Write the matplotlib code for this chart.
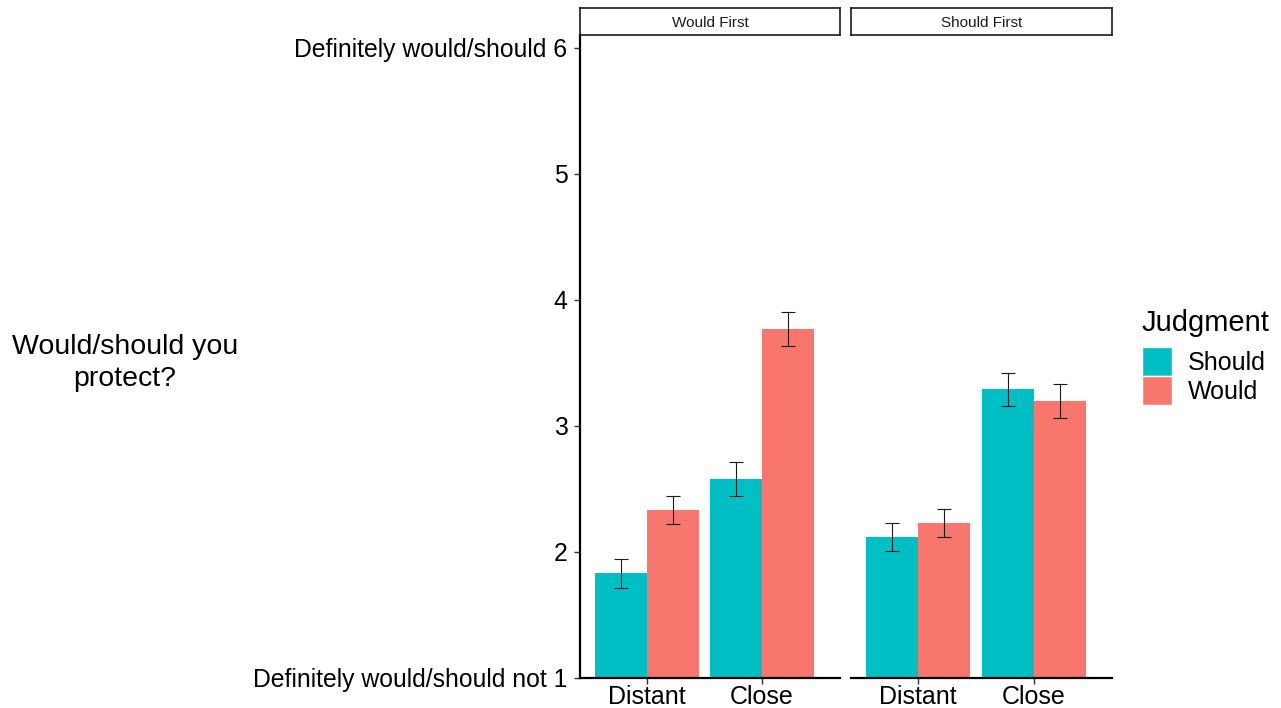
import matplotlib
matplotlib.use("Agg")
import matplotlib.pyplot as plt
from matplotlib.patches import Patch
import numpy as np

plt.rcParams['font.family'] = ['Liberation Sans', 'DejaVu Sans']

panels = ["Would First", "Should First"]
distance = ["Distant", "Close"]
judgments = ["Should", "Would"]
colors = {"Should": "#00BFC4", "Would": "#F8766D"}

# means[panel][judgment] over distance
means = {
    "Would First": {"Should": [1.83, 2.58], "Would": [2.33, 3.77]},
    "Should First": {"Should": [2.12, 3.29], "Would": [2.23, 3.20]},
}
ses = {
    "Would First": {"Should": [0.115, 0.134], "Would": [0.112, 0.135]},
    "Should First": {"Should": [0.113, 0.133], "Would": [0.112, 0.135]},
}

ytick_vals = [1, 2, 3, 4, 5, 6]
ytick_labels = ["Definitely would/should not 1", "2", "3", "4", "5",
                "Definitely would/should 6"]

W, H = 1281, 708
fig = plt.figure(figsize=(W / 100, H / 100), dpi=100)

panel_px = [(580, 840), (851, 1112)]
top_px, bot_px = 35, 678
strip_top = 8

bw = 0.45
for i, (pname, (x0, x1)) in enumerate(zip(panels, panel_px)):
    ax = fig.add_axes([x0 / W, 1 - bot_px / H, (x1 - x0) / W, (bot_px - top_px) / H])
    xs = np.arange(1, len(distance) + 1)
    for j, jd in enumerate(judgments):
        pos = xs + (j - 0.5) * bw
        ax.bar(pos, np.array(means[pname][jd]) - 1, bottom=1, width=bw,
               color=colors[jd], edgecolor='none', zorder=2)
        ax.errorbar(pos, means[pname][jd], yerr=ses[pname][jd], fmt='none',
                    ecolor='#1a1a1a', elinewidth=0.8, capsize=5, capthick=0.8,
                    zorder=3)
    ax.set_xlim(0.417, 2.678)
    ax.set_ylim(1, 6.1)
    ax.set_xticks(xs)
    ax.set_xticklabels(distance, fontsize=18)
    for s in ['top', 'right']:
        ax.spines[s].set_visible(False)
    ax.spines['bottom'].set_linewidth(1.6)
    ax.tick_params(axis='x', length=4, width=1, color='#333333', pad=1, labelcolor='black')
    if i == 0:
        ax.spines['left'].set_linewidth(1.6)
        ax.set_yticks(ytick_vals)
        ax.set_yticklabels(ytick_labels, fontsize=17.8)
        ax.tick_params(axis='y', length=4, width=1, color='#333333', pad=5, labelcolor='black')
    else:
        ax.spines['left'].set_visible(False)
        ax.set_yticks([])
    ax.set_facecolor('white')

    # strip
    sax = fig.add_axes([x0 / W, 1 - top_px / H, (x1 - x0) / W, (top_px - strip_top) / H])
    sax.set_xticks([]); sax.set_yticks([])
    for s in sax.spines.values():
        s.set_linewidth(1.2)
        s.set_color('#1a1a1a')
    sax.text(0.5, 0.45, pname, ha='center', va='center', fontsize=11,
             color='#1a1a1a', transform=sax.transAxes)

fig.text(125 / W, 1 - 363 / H, "Would/should you\nprotect?", ha='center',
         va='center', fontsize=20.5, linespacing=1.35)

fig.text(1142 / W, 1 - 323 / H, "Judgment", ha='left', va='center', fontsize=21)

handles = [Patch(facecolor=colors[j], edgecolor='white', linewidth=1, label=j)
           for j in judgments]
leg = fig.legend(handles=handles, loc='upper left',
                 bbox_to_anchor=(1142 / W, 1 - 347 / H), frameon=False,
                 fontsize=18, handlelength=1.2,
                 handleheight=1.42, handletextpad=0.62, labelspacing=0.0,
                 borderaxespad=0, borderpad=0.0)

fig.savefig("out.png", dpi=100, facecolor='white')
